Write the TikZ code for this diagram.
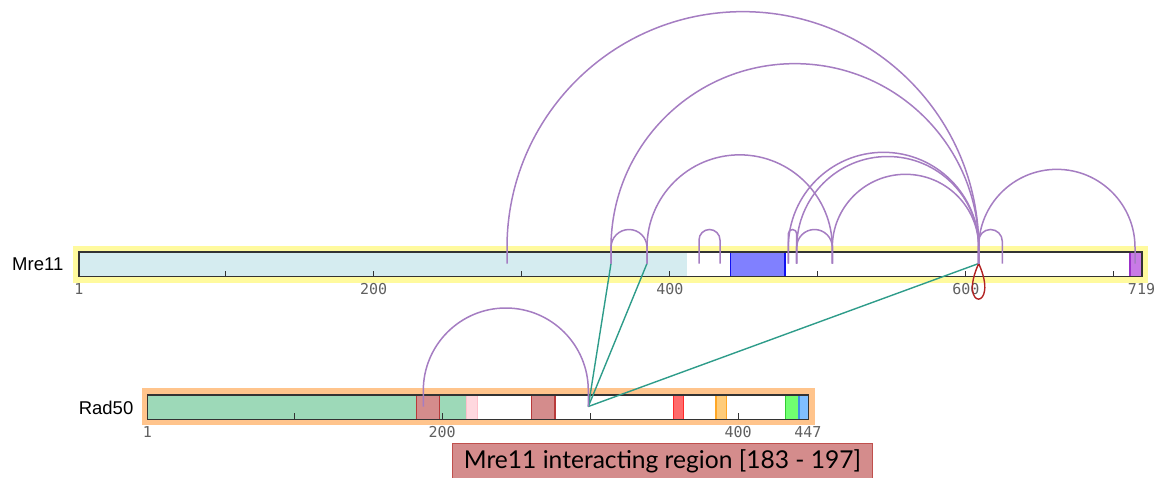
\documentclass[tikz,border=0pt]{standalone}
\usepackage{fontspec}
\setmainfont{Liberation Sans}
\newfontfamily\ticksfont{DejaVu Sans Mono}
\newfontfamily\notefont{Lato}
\usetikzlibrary{calc}

\definecolor{hlyellow}{HTML}{FFFA9E}
\definecolor{hlorange}{HTML}{FFC48C}
\definecolor{mrefill}{HTML}{D5ECF0}
\definecolor{domblue}{HTML}{8080FF}
\definecolor{domblueline}{HTML}{1010F0}
\definecolor{dompurple}{HTML}{C87AE6}
\definecolor{dompurpleline}{HTML}{9B30C8}
\definecolor{radgreen}{HTML}{9DD9B8}
\definecolor{rosy}{HTML}{D48C8C}
\definecolor{rosyline}{HTML}{B83A3A}
\definecolor{dompink}{HTML}{FFD8DF}
\definecolor{dompinkline}{HTML}{FFC0CB}
\definecolor{domred}{HTML}{FF6B6B}
\definecolor{domredline}{HTML}{FF2A2A}
\definecolor{domorange}{HTML}{FFCC7A}
\definecolor{domorangeline}{HTML}{FFA726}
\definecolor{domgreen}{HTML}{70FF70}
\definecolor{domgreenline}{HTML}{33CC33}
\definecolor{domsky}{HTML}{80BFFF}
\definecolor{domskyline}{HTML}{3D8FE0}
\definecolor{arccol}{HTML}{A57DC2}
\definecolor{tealcol}{HTML}{2E9C8A}
\definecolor{loopcol}{HTML}{B22222}
\definecolor{noteline}{HTML}{C0504D}
\definecolor{tickgrey}{HTML}{606060}

% arch between two residues: vertical stems, then a half circle
% (\n1 and \n2 come out as canvas lengths, upward is positive)
\newcommand{\linkarc}[2]{%
  \draw[arcline] let \p1=(#1), \p2=(#2), \n1={(\x2-\x1)/2}, \n2={max(16pt,34pt-\n1)} in
    (#1) -- ++(0pt,\n2) arc[start angle=180,end angle=0,radius=\n1] -- (#2);}

\begin{document}
\begin{tikzpicture}[x=1pt,y=-1pt,
  protname/.style={font=\fontsize{18.5}{20}\selectfont, inner sep=0pt},
  ticklabel/.style={font=\ticksfont\fontsize{15}{16}\selectfont, text=tickgrey, inner sep=0pt, anchor=north},
  barline/.style={draw=black!80, line width=1.3pt},
  tickmark/.style={draw=black!80, line width=1.1pt},
  arcline/.style={draw=arccol, line width=1.5pt},
  tealline/.style={draw=tealcol, line width=1.4pt},
  dom/.style={line width=1.2pt},
  notebox/.style={fill=rosy, draw=noteline, line width=1pt}]
\useasboundingbox (0,0) rectangle (1161,477);

% ---------------- Mre11 ----------------
\fill[hlyellow] (73,246) rectangle (1148,282.5);
\fill[white] (79,252) rectangle (1142,276.5);
\fill[mrefill] (79,252) rectangle (687,276.5);
\path[dom, fill=domblue, draw=domblueline] (730.7,252) rectangle (785,276.5);
\path[dom, fill=dompurple, draw=dompurpleline] (1130,252) rectangle (1142,276.5);
\foreach \t in {225.6,373.7,521.7,669.8,817.8,965.9,1113.9}
  \draw[tickmark] (\t,276.5) -- (\t,270.5);
\draw[barline] (79,252) rectangle (1142,276.5);
\node[protname, anchor=east] (mrename) at (63.5,264) {Mre11};
\node[ticklabel] (ml1)   at (79,283)    {1};
\node[ticklabel] (ml200) at (373.7,283) {200};
\node[ticklabel] (ml400) at (669.8,283) {400};
\node[ticklabel] (ml600) at (965.9,283) {600};
\node[ticklabel] (ml719) at (1141.5,283) {719};

% ---------------- Rad50 ----------------
\fill[hlorange] (141.7,388.3) rectangle (815,425);
\fill[white] (147.3,395) rectangle (808.3,419.3);
\fill[radgreen] (147.3,395) rectangle (466.7,419.3);
\path[dom, fill=rosy, draw=rosyline] (416.7,395) rectangle (439.3,419.3);
\path[dom, fill=dompink, draw=dompinkline] (466.7,395) rectangle (477.7,419.3);
\path[dom, fill=rosy, draw=rosyline] (531.7,395) rectangle (555,419.3);
\path[dom, fill=domred, draw=domredline] (673.3,395) rectangle (683.3,419.3);
\path[dom, fill=domorange, draw=domorangeline] (716,395) rectangle (726.7,419.3);
\path[dom, fill=domgreen, draw=domgreenline] (785.7,395) rectangle (799,419.3);
\path[dom, fill=domsky, draw=domskyline] (799,395) rectangle (808.3,419.3);
\foreach \t in {294.5,442.2,590.5,738.2}
  \draw[tickmark] (\t,419.3) -- (\t,413);
\draw[barline] (147.3,395) rectangle (808.3,419.3);
\node[protname, anchor=east] (radname) at (133.5,407.5) {Rad50};
\node[ticklabel] (rl1)   at (147.3,426) {1};
\node[ticklabel] (rl200) at (442.2,426) {200};
\node[ticklabel] (rl400) at (738.2,426) {400};
\node[ticklabel] (rl447) at (807.8,426) {447};

% ---------------- link end points ----------------
\coordinate (m507)  at (507,263.5);
\coordinate (m611)  at (611,263.5);
\coordinate (m647)  at (647,263.5);
\coordinate (m699)  at (699,263.5);
\coordinate (m720)  at (720,263.5);
\coordinate (m788)  at (788.3,263.5);
\coordinate (m797)  at (796.7,263.5);
\coordinate (m832)  at (832.3,263.5);
\coordinate (m978)  at (978.7,263.5);
\coordinate (m1002) at (1002.3,263.5);
\coordinate (m1135) at (1135,263.5);
\coordinate (r423)  at (423.3,406.5);
\coordinate (r588)  at (588.3,406.5);

% inter-protein links
\draw[tealline] (r588) -- (m611);
\draw[tealline] (r588) -- (m647);
\draw[tealline] (r588) -- (m978);

% self link
\draw[loopcol, line width=1.4pt] (m978) .. controls (957,311) and (1000,311) .. (m978);

% intra-protein links
\linkarc{m507}{m978}
\linkarc{m611}{m978}
\linkarc{m611}{m647}
\linkarc{m647}{m832}
\linkarc{m699}{m720}
\linkarc{m788}{m978}
\linkarc{m797}{m978}
\linkarc{m788}{m797}
\linkarc{m797}{m832}
\linkarc{m832}{m978}
\linkarc{m978}{m1002}
\linkarc{m978}{m1135}
\linkarc{r423}{r588}

% ---------------- highlighted region ----------------
\path[notebox] (452.7,443.3) rectangle (872.3,490);
\node[font=\notefont\fontsize{24.6}{27}\selectfont, inner sep=0pt] (note) at (662.5,461) {Mre11 interacting region [183 - 197]};
\end{tikzpicture}
\end{document}
